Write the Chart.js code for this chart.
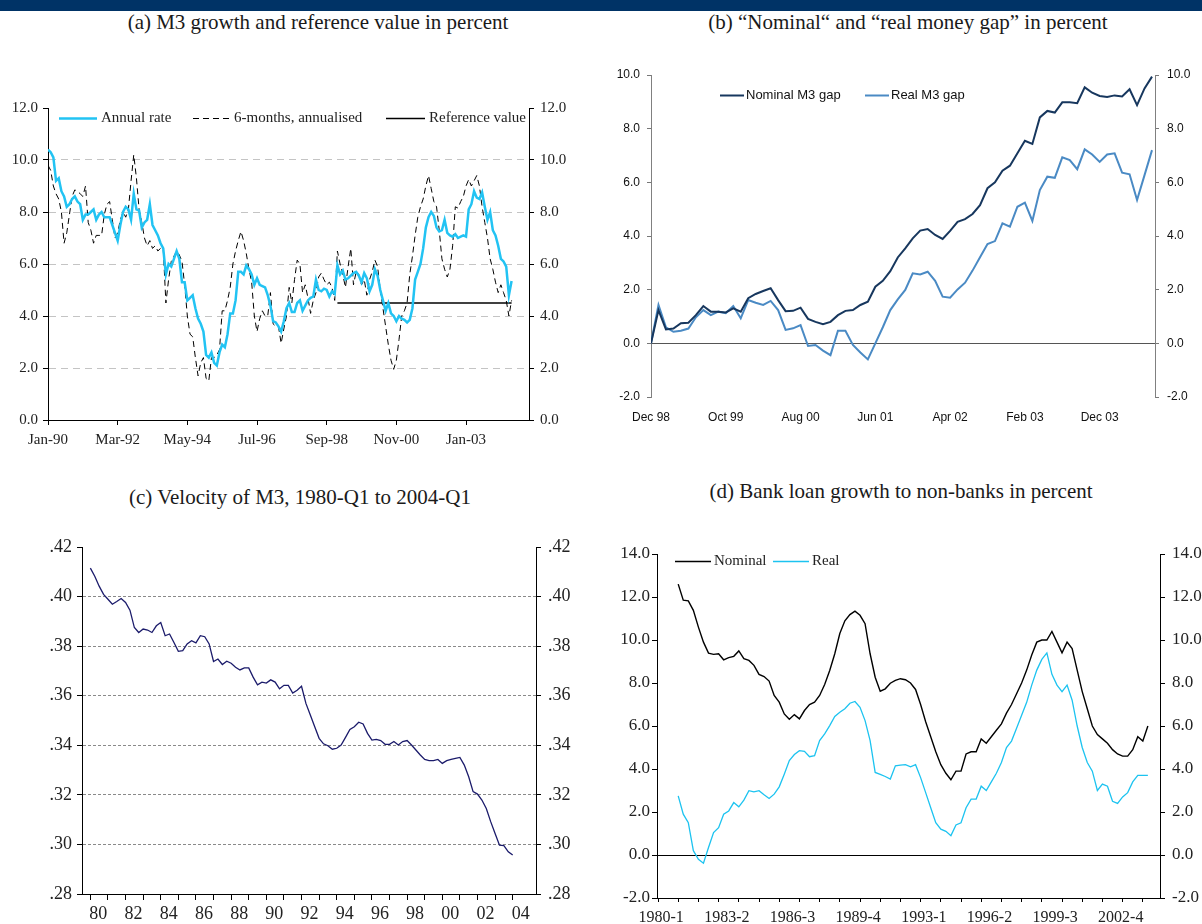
<!DOCTYPE html>
<html>
<head>
<meta charset="utf-8">
<script src="https://cdn.jsdelivr.net/npm/chart.js@4.4.1/dist/chart.umd.min.js"></script>
<style>
  body { margin: 0; width: 1202px; height: 924px; background: #fff; position: relative; overflow: hidden; font-family: "Liberation Serif", serif; }
  .bar { position: absolute; left: 0; top: 0; width: 1202px; height: 11px; background: #003366; }
  .title { position: absolute; font-size: 21px; line-height: 1; color: #1a1a1a; white-space: nowrap; transform: translateX(-50%); }
  canvas { position: absolute; }
</style>
</head>
<body>
<div class="bar"></div>
<div class="title" style="left:318px; top:12px">(a) M3 growth and reference value in percent</div>
<div class="title" style="left:908px; top:12px">(b) “Nominal“ and “real money gap” in percent</div>
<div class="title" style="left:300px; top:487px">(c) Velocity of M3, 1980-Q1 to 2004-Q1</div>
<div class="title" style="left:901px; top:481px">(d) Bank loan growth to non-banks in percent</div>

<canvas id="chartA" width="600" height="460" style="left:0; top:40px"></canvas>
<canvas id="chartB" width="602" height="460" style="left:600px; top:40px"></canvas>
<canvas id="chartC" width="600" height="424" style="left:0; top:500px"></canvas>
<canvas id="chartD" width="602" height="424" style="left:600px; top:500px"></canvas>

<script>
// (a) M3 growth, monthly from Jan-90 (index 0) to Jun-04
const aTickMonths = [0, 26, 52, 78, 104, 130, 156];
const aTickLabels = ["Jan-90", "Mar-92", "May-94", "Jul-96", "Sep-98", "Nov-00", "Jan-03"];
const annualRate = [
  10.4, 10.3, 10.1, 9.2, 9.3, 8.8, 8.6, 8.2, 8.3, 8.5,
  8.6, 8.4, 8.3, 7.7, 7.9, 7.9, 8.0, 8.1, 7.7, 7.9,
  8.0, 7.8, 7.8, 7.8, 7.5, 7.2, 6.9, 7.5, 8.0, 8.2,
  8.1, 7.7, 8.7, 8.1, 8.05, 7.4, 7.6, 7.7, 8.3, 7.5,
  7.3, 7.1, 6.8, 6.6, 5.6, 6.0, 5.9, 6.2, 6.5, 6.2,
  5.3, 5.3, 4.6, 4.7, 4.8, 4.3, 3.9, 3.7, 3.4, 2.5,
  2.4, 2.6, 2.2, 2.1, 2.6, 2.9, 2.8, 3.3, 4.1, 4.1,
  4.6, 5.7, 5.7, 5.6, 5.95, 5.8, 5.6, 5.2, 5.45, 5.2,
  5.15, 5.1, 4.8, 4.4, 3.8, 3.75, 3.6, 3.4, 3.8, 4.3,
  4.5, 4.15, 4.15, 4.5, 4.6, 4.2, 4.4, 4.6, 4.7, 4.75,
  5.4, 5.0, 4.95, 5.05, 5.0, 4.75, 4.95, 4.85, 5.95, 5.6,
  5.75, 5.4, 5.45, 5.55, 5.65, 5.7, 5.55, 5.3, 5.65, 5.45,
  4.95, 5.2, 5.8, 5.55, 5.0, 4.6, 4.2, 4.5, 4.1, 4.0,
  3.8, 4.0, 3.9, 3.85, 3.75, 3.85, 4.3, 5.4, 5.7, 6.0,
  6.6, 7.4, 7.8, 8.0, 7.85, 7.4, 7.25, 7.3, 7.7, 7.2,
  7.1, 7.05, 7.15, 7.0, 7.05, 7.1, 7.05, 8.1, 8.3, 8.8,
  8.55, 8.5, 8.75, 8.2, 7.7, 8.0, 7.3, 7.1, 6.7, 6.2,
  6.1, 5.9, 4.8, 5.35
];
const sixMonthAnnualised = [
  9.8, 9.6, 9.0, 8.7, 8.5, 8.0, 6.8, 7.2, 7.9, 8.6,
  8.85, 8.8, 8.7, 8.6, 9.0, 7.6, 7.3, 6.8, 7.1, 7.1,
  7.1, 7.9, 8.3, 8.4, 7.7, 7.0, 7.2, 7.7, 8.0, 7.8,
  8.1, 9.2, 10.2, 9.3, 8.1, 7.6, 7.0, 6.7, 6.9, 6.6,
  6.7, 6.5, 6.6, 6.6, 4.5, 5.4, 6.1, 6.3, 6.5, 6.35,
  6.1, 5.2, 4.0, 3.3, 3.2, 2.4, 1.7, 2.2, 2.4, 1.6,
  1.5, 2.4, 2.4, 2.5, 2.7, 4.2, 4.2, 4.6, 5.1, 6.0,
  6.5, 6.9, 7.25, 6.9, 6.4, 5.8, 5.3, 4.0, 3.4, 3.9,
  4.2, 4.0, 4.0, 4.9, 3.7, 3.6, 3.6, 2.95, 3.5, 4.0,
  5.1, 4.5, 5.4, 6.15, 6.0, 4.9, 5.2, 4.7, 4.1, 4.6,
  4.9, 5.5, 5.65, 5.4, 5.2, 5.3, 5.1, 4.6, 6.5, 6.0,
  5.6, 5.1, 5.9, 6.6, 5.2, 5.7, 5.6, 5.2, 5.4, 4.8,
  5.4, 5.7, 6.15, 5.9, 5.0, 4.3, 3.6, 2.9, 2.3, 1.95,
  2.3, 3.1, 4.0, 4.2, 4.5, 5.6, 6.3, 7.1, 7.8, 8.2,
  8.5, 9.0, 9.4, 8.9, 8.4, 8.2, 7.3, 6.2, 5.8, 5.5,
  5.8, 6.7, 8.2, 8.15, 8.4, 8.6, 9.0, 9.25, 9.0, 9.2,
  9.4, 9.0, 8.2, 7.6, 7.0, 6.2, 5.8, 5.3, 4.9, 5.2,
  4.9, 4.6, 4.0, 4.6
];
const referenceValue = 4.5;
const referenceFrom = 108; // Jan-99
const referenceTo = 173;   // Jun-04

// (b) money gaps, monthly from Dec 98 (index 0)
const bTickMonths = [0, 10, 20, 30, 40, 50, 60];
const bTickLabels = ["Dec 98", "Oct 99", "Aug 00", "Jun 01", "Apr 02", "Feb 03", "Dec 03"];
const nominalGap = [
  0.0, 1.24, 0.52, 0.55, 0.75, 0.77, 1.05, 1.39, 1.18, 1.18,
  1.15, 1.30, 1.18, 1.68, 1.84, 1.95, 2.05, 1.61, 1.20, 1.21,
  1.33, 0.91, 0.80, 0.71, 0.80, 1.05, 1.21, 1.24, 1.43, 1.55,
  2.11, 2.33, 2.69, 3.2, 3.54, 3.91, 4.20, 4.26, 4.04, 3.89,
  4.19, 4.53, 4.63, 4.82, 5.15, 5.78, 6.0, 6.43, 6.62, 7.08,
  7.55, 7.43, 8.42, 8.66, 8.60, 8.98, 8.98, 8.95, 9.54, 9.34,
  9.22, 9.18, 9.24, 9.20, 9.47, 8.88, 9.50, 9.94
];
const realGap = [
  0.0, 1.43, 0.60, 0.43, 0.47, 0.55, 0.97, 1.24, 1.05, 1.18,
  1.12, 1.39, 0.93, 1.61, 1.51, 1.43, 1.58, 1.24, 0.50, 0.56,
  0.68, -0.10, -0.06, -0.27, -0.44, 0.47, 0.47, -0.06, -0.34, -0.60,
  0.0, 0.60, 1.24, 1.64, 1.99, 2.61, 2.57, 2.67, 2.33, 1.74,
  1.70, 2.01, 2.26, 2.71, 3.21, 3.70, 3.81, 4.47, 4.35, 5.09,
  5.24, 4.56, 5.71, 6.21, 6.17, 6.93, 6.83, 6.49, 7.23, 7.04,
  6.76, 7.04, 7.08, 6.36, 6.30, 5.34, 6.27, 7.2
];

// (c) velocity of M3, quarterly 1980-Q1 (index 0) to 2004-Q1
const cTickLabels = ["80", "", "82", "", "84", "", "86", "", "88", "", "90", "", "92", "",
  "94", "", "96", "", "98", "", "00", "", "02", "", "04"];
const velocity = [
  .4115, .4082, .4042, .4009, .3989, .3969, .3980, .3992, .3976, .3945,
  .3875, .3855, .3869, .3865, .3855, .3882, .3895, .3842, .3849, .3815,
  .3779, .3782, .3809, .3822, .3813, .3842, .3838, .3809, .3738, .3748,
  .3726, .3739, .3731, .3715, .3704, .3712, .3712, .3675, .3644, .3655,
  .3651, .3664, .3655, .3628, .3642, .3642, .3611, .3622, .3638, .3569,
  .3522, .3475, .3428, .3406, .3398, .3384, .3388, .3401, .3432, .3464,
  .3475, .3493, .3486, .3448, .3421, .3424, .3419, .3404, .3404, .3415,
  .3401, .3415, .3419, .3401, .3381, .3361, .3343, .3338, .3338, .3343,
  .3327, .3338, .3343, .3347, .3351, .3320, .3273, .3213, .3203, .3179,
  .3145, .3092, .3044, .2997, .2995, .2970, .2957
];

// (d) bank loan growth, quarterly from 1980-1 (index 0)
const dLabelQuarters = [0, 13, 26, 39, 52, 65, 78, 91];
const dTickLabels = ["1980-1", "1983-2", "1986-3", "1989-4", "1993-1", "1996-2", "1999-3", "2002-4"];
const loanNominal = [
  12.6, 11.85, 11.82, 11.38, 10.6, 9.9, 9.39, 9.33, 9.36, 9.08,
  9.18, 9.24, 9.49, 9.13, 9.05, 8.82, 8.40, 8.3, 8.09, 7.42,
  7.11, 6.56, 6.31, 6.53, 6.33, 6.72, 7.0, 7.11, 7.42, 7.93,
  8.58, 9.36, 10.3, 10.89, 11.18, 11.34, 11.15, 10.76, 9.36, 8.27,
  7.62, 7.73, 7.99, 8.12, 8.2, 8.15, 8.0, 7.7, 7.0, 6.2,
  5.5, 4.8, 4.2, 3.8, 3.5, 3.9, 3.9, 4.7, 4.8, 4.8,
  5.4, 5.2, 5.5, 5.8, 6.1, 6.6, 7.0, 7.5, 8.0, 8.6,
  9.3, 9.9, 10.0, 10.0, 10.4, 9.9, 9.4, 9.9, 9.6, 8.6,
  7.6, 6.8, 6.0, 5.6, 5.4, 5.2, 4.9, 4.7, 4.6, 4.6,
  4.9, 5.5, 5.3, 6.0
];
const loanReal = [
  2.75, 1.9, 1.5, 0.2, -0.2, -0.38, 0.35, 1.04, 1.27, 1.9,
  2.05, 2.44, 2.24, 2.55, 2.99, 2.94, 2.99, 2.8, 2.63, 2.83,
  3.17, 3.76, 4.39, 4.67, 4.85, 4.82, 4.57, 4.62, 5.32, 5.63,
  6.02, 6.44, 6.64, 6.80, 7.06, 7.14, 6.87, 6.25, 5.32, 3.84,
  3.75, 3.65, 3.53, 4.15, 4.18, 4.2, 4.1, 4.2, 3.6, 2.9,
  2.2, 1.5, 1.2, 1.1, 0.9, 1.4, 1.5, 2.2, 2.6, 2.6,
  3.2, 3.0, 3.4, 3.8, 4.3, 5.0, 5.3, 5.9, 6.5, 7.1,
  7.9, 8.6, 9.1, 9.4, 8.4, 7.9, 7.6, 7.9, 7.2, 6.0,
  5.0, 4.3, 3.9, 3.0, 3.3, 3.2, 2.5, 2.4, 2.7, 2.9,
  3.4, 3.7, 3.7, 3.7
];

// helpers
function xy(values, start = 0) {
  return values.map((v, i) => ({ x: start + i, y: v }));
}
function fixWidth(w) {
  return (axis) => { axis.width = w; };
}
function fixHeight(h) {
  return (axis) => { axis.height = h; };
}
function setTicks(values) {
  return (axis) => { axis.ticks = values.map((v) => ({ value: v })); };
}
function hideAt(values, color) {
  return (c) => (c.tick && values.some((v) => Math.abs(c.tick.value - v) < 1e-6)) ? "rgba(0,0,0,0)" : color;
}
function onlyAt(value, color) {
  return (c) => (c.tick && Math.abs(c.tick.value - value) < 1e-6) ? color : "rgba(0,0,0,0)";
}

// legend drawn inside the plot, text and line style taken from the datasets
const inlineLegend = {
  id: "inlineLegend",
  afterDraw(chart, args, opts) {
    const ctx = chart.ctx;
    ctx.save();
    ctx.font = opts.font;
    ctx.textBaseline = "middle";
    opts.items.forEach((it) => {
      const ds = chart.data.datasets[it.dataset];
      ctx.strokeStyle = ds.borderColor;
      ctx.lineWidth = ds.borderWidth;
      ctx.setLineDash(ds.borderDash || []);
      ctx.beginPath();
      ctx.moveTo(it.x, opts.y + 0.5);
      ctx.lineTo(it.x + it.len, opts.y + 0.5);
      ctx.stroke();
      ctx.setLineDash([]);
      ctx.fillStyle = opts.color;
      ctx.fillText(ds.label, it.x + it.len + opts.gap, opts.y);
    });
    ctx.restore();
  },
};

const serifA = { family: "Liberation Serif", size: 15 };
const sans = { family: "Liberation Sans", size: 12 };
const serifC = { family: "Liberation Serif", size: 18 };
const serifD = { family: "Liberation Serif", size: 17 };
const common = { responsive: false, animation: false, events: [] };

// (a)
new Chart(document.getElementById("chartA"), {
  type: "line",
  data: {
    datasets: [
      { label: "Annual rate", data: xy(annualRate), borderColor: "#22c3f3", borderWidth: 2.5, pointRadius: 0 },
      { label: "6-months, annualised", data: xy(sixMonthAnnualised), borderColor: "#000", borderWidth: 1, borderDash: [6, 4], pointRadius: 0 },
      { label: "Reference value", data: [{ x: referenceFrom, y: referenceValue }, { x: referenceTo, y: referenceValue }], borderColor: "#000", borderWidth: 1.4, pointRadius: 0 },
    ],
  },
  options: {
    ...common,
    layout: { padding: { top: 68, left: 0, right: 0, bottom: 0 } },
    plugins: {
      legend: { display: false },
      tooltip: { enabled: false },
      inlineLegend: {
        y: 78, font: "15px 'Liberation Serif'", color: "#222", gap: 4,
        items: [{ dataset: 0, x: 59, len: 38 }, { dataset: 1, x: 193, len: 37 }, { dataset: 2, x: 386, len: 39 }],
      },
    },
    scales: {
      x: {
        type: "linear", min: 0, max: 179.5,
        afterFit: fixHeight(80),
        afterBuildTicks: setTicks(aTickMonths),
        ticks: { autoSkip: false, maxRotation: 0, padding: 6, color: "#222", font: serifA, callback: (v, i) => aTickLabels[i] },
        grid: { drawOnChartArea: false, tickLength: 5, color: "#000" },
        border: { color: "#000" },
      },
      y: {
        type: "linear", position: "left", min: 0, max: 12,
        afterFit: fixWidth(48),
        ticks: { stepSize: 2, padding: 5, color: "#222", font: serifA, callback: (v) => v.toFixed(1) },
        grid: { color: hideAt([0, 12], "#c4c4c4"), tickColor: "#000", tickLength: 5 },
        border: { color: "#000", dash: [7, 5] },
      },
      y2: {
        type: "linear", position: "right", min: 0, max: 12,
        afterFit: fixWidth(71),
        ticks: { stepSize: 2, padding: 6, color: "#222", font: serifA, callback: (v) => v.toFixed(1) },
        grid: { drawOnChartArea: false, tickColor: "#000", tickLength: 5 },
        border: { color: "#000" },
      },
    },
  },
  plugins: [inlineLegend],
});

// (b)
new Chart(document.getElementById("chartB"), {
  type: "line",
  data: {
    datasets: [
      { label: "Nominal M3 gap", data: xy(nominalGap), borderColor: "#17375e", borderWidth: 2, pointRadius: 0 },
      { label: "Real M3 gap", data: xy(realGap), borderColor: "#4a8ac4", borderWidth: 2, pointRadius: 0 },
    ],
  },
  options: {
    ...common,
    layout: { padding: { top: 35, left: 0, right: 0, bottom: 0 } },
    plugins: {
      legend: { display: false },
      tooltip: { enabled: false },
      inlineLegend: {
        y: 55, font: "13px 'Liberation Sans'", color: "#111", gap: 2,
        items: [{ dataset: 0, x: 120, len: 24 }, { dataset: 1, x: 265, len: 24 }],
      },
    },
    scales: {
      x: {
        type: "linear", min: 0, max: 67.4,
        afterFit: fixHeight(103),
        afterBuildTicks: setTicks(bTickMonths),
        ticks: { autoSkip: false, maxRotation: 0, padding: 13, color: "#111", font: sans, callback: (v, i) => bTickLabels[i] },
        grid: { display: false, drawTicks: false },
        border: { display: false },
      },
      y: {
        type: "linear", position: "left", min: -2, max: 10,
        afterFit: fixWidth(51),
        ticks: { stepSize: 2, padding: 7, color: "#111", font: sans, callback: (v) => v.toFixed(1) },
        grid: { color: onlyAt(0, "#555"), tickColor: "#777", tickLength: 4 },
        border: { color: "#808080" },
      },
      y2: {
        type: "linear", position: "right", min: -2, max: 10,
        afterFit: fixWidth(47),
        ticks: { stepSize: 2, padding: 8, color: "#111", font: sans, callback: (v) => v.toFixed(1) },
        grid: { drawOnChartArea: false, tickColor: "#777", tickLength: 4 },
        border: { color: "#808080" },
      },
    },
  },
  plugins: [inlineLegend],
});

// (c)
new Chart(document.getElementById("chartC"), {
  type: "line",
  data: {
    datasets: [
      { label: "Velocity", data: xy(velocity), borderColor: "#1b1b6b", borderWidth: 1.3, pointRadius: 0 },
    ],
  },
  options: {
    ...common,
    layout: { padding: { top: 47, left: 0, right: 0, bottom: 0 } },
    plugins: { legend: { display: false }, tooltip: { enabled: false } },
    scales: {
      x: {
        type: "linear", min: -1.9, max: 101.3,
        afterFit: fixHeight(30),
        afterBuildTicks: setTicks(cTickLabels.map((_, i) => i * 4)),
        ticks: { autoSkip: false, maxRotation: 0, padding: 3, labelOffset: 8, color: "#222", font: serifC, callback: (v, i) => cTickLabels[i] },
        grid: { drawOnChartArea: false, tickLength: 6, color: "#000" },
        border: { color: "#000" },
      },
      y: {
        type: "linear", position: "left", min: 0.28, max: 0.42,
        afterFit: fixWidth(82),
        ticks: { stepSize: 0.02, padding: 5, color: "#222", font: serifC, callback: (v) => v.toFixed(2).slice(1) },
        grid: { color: hideAt([0.28, 0.42], "#8a8a8a"), tickColor: "#000", tickLength: 5 },
        border: { color: "#000", dash: [3, 2] },
      },
      y2: {
        type: "linear", position: "right", min: 0.28, max: 0.42,
        afterFit: fixWidth(64),
        ticks: { stepSize: 0.02, padding: 7, color: "#222", font: serifC, callback: (v) => v.toFixed(2).slice(1) },
        grid: { drawOnChartArea: false, tickColor: "#000", tickLength: 5 },
        border: { color: "#000" },
      },
    },
  },
});

// (d)
new Chart(document.getElementById("chartD"), {
  type: "line",
  data: {
    datasets: [
      { label: "Nominal", data: xy(loanNominal), borderColor: "#000", borderWidth: 1.4, pointRadius: 0 },
      { label: "Real", data: xy(loanReal), borderColor: "#1cc3f0", borderWidth: 1.3, pointRadius: 0 },
    ],
  },
  options: {
    ...common,
    layout: { padding: { top: 54, left: 0, right: 0, bottom: 0 } },
    plugins: {
      legend: { display: false },
      tooltip: { enabled: false },
      inlineLegend: {
        y: 61, font: "15px 'Liberation Serif'", color: "#222", gap: 3,
        items: [{ dataset: 0, x: 75, len: 36 }, { dataset: 1, x: 173, len: 36 }],
      },
    },
    scales: {
      x: {
        type: "linear", min: -4.2, max: 95.4,
        afterFit: fixHeight(26),
        afterBuildTicks: (axis) => {
          const values = new Set(dLabelQuarters);
          for (let q = -4; q <= axis.max; q += 4) values.add(q);
          axis.ticks = [...values].sort((a, b) => a - b).map((v) => ({ value: v }));
        },
        ticks: {
          autoSkip: false, maxRotation: 0, padding: 6, labelOffset: -17, color: "#222",
          font: { family: "Liberation Serif", size: 16 },
          callback: (v) => {
            const k = dLabelQuarters.indexOf(v);
            return k >= 0 ? dTickLabels[k] : "";
          },
        },
        grid: {
          drawOnChartArea: false, tickLength: 4,
          tickColor: (c) => (c.tick && c.tick.value % 4 === 0) ? "#000" : "rgba(0,0,0,0)",
        },
        border: { color: "#000" },
      },
      y: {
        type: "linear", position: "left", min: -2, max: 14,
        afterFit: fixWidth(57),
        ticks: { stepSize: 2, padding: 2, color: "#222", font: serifD, callback: (v) => v.toFixed(1) },
        grid: { color: onlyAt(0, "#000"), tickColor: "#000", tickLength: 5 },
        border: { color: "#000" },
      },
      y2: {
        type: "linear", position: "right", min: -2, max: 14,
        afterFit: fixWidth(42),
        ticks: { stepSize: 2, padding: 7, color: "#222", font: serifD, callback: (v) => v.toFixed(1) },
        grid: { drawOnChartArea: false, tickColor: "#000", tickLength: 5 },
        border: { color: "#000" },
      },
    },
  },
  plugins: [inlineLegend],
});
</script>
</body>
</html>
